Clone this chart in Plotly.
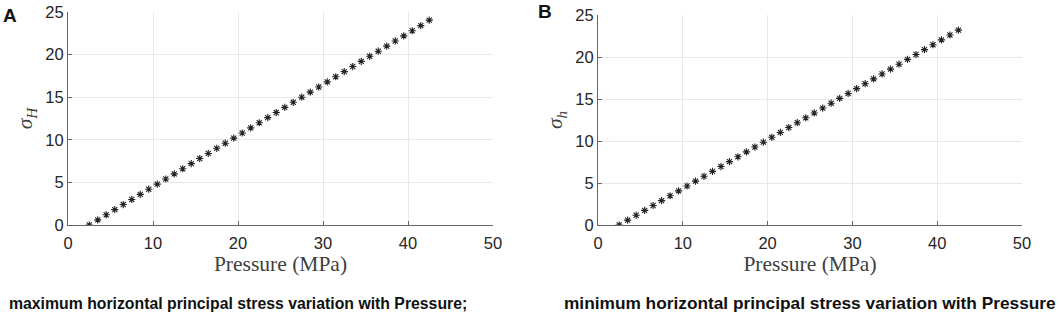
import plotly.graph_objects as go

pressure = [2.5, 3.5, 4.5, 5.5, 6.5, 7.5, 8.5, 9.5, 10.5, 11.5, 12.5, 13.5, 14.5, 15.5,
            16.5, 17.5, 18.5, 19.5, 20.5, 21.5, 22.5, 23.5, 24.5, 25.5, 26.5, 27.5, 28.5,
            29.5, 30.5, 31.5, 32.5, 33.5, 34.5, 35.5, 36.5, 37.5, 38.5, 39.5, 40.5, 41.5, 42.5]
sigma_H = [0.0, 0.6, 1.2, 1.8, 2.4, 3.0, 3.6, 4.2, 4.8, 5.4, 6.0, 6.6, 7.2, 7.8,
           8.4, 9.0, 9.6, 10.2, 10.8, 11.4, 12.0, 12.6, 13.2, 13.8, 14.4, 15.0, 15.6,
           16.2, 16.8, 17.4, 18.0, 18.6, 19.2, 19.8, 20.4, 21.0, 21.6, 22.2, 22.8, 23.4, 24.05]
sigma_h = [0.0, 0.58, 1.16, 1.74, 2.32, 2.9, 3.48, 4.06, 4.64, 5.22, 5.8, 6.38, 6.96, 7.54,
           8.12, 8.7, 9.28, 9.86, 10.44, 11.02, 11.6, 12.18, 12.76, 13.34, 13.92, 14.5, 15.08,
           15.66, 16.24, 16.82, 17.4, 17.98, 18.56, 19.14, 19.72, 20.3, 20.88, 21.46, 22.04, 22.62, 23.2]
x_ticks = [0, 10, 20, 30, 40, 50]
y_ticks = [0, 5, 10, 15, 20, 25]
captions = ["maximum horizontal principal stress variation with Pressure;",
            "minimum horizontal principal stress variation with Pressure"]
panel_labels = ["A", "B"]

W, H = 1059, 312
fig = go.Figure()

marker = dict(symbol="asterisk-open", size=6, color="#222222",
              line=dict(color="#222222", width=1.1))
fig.add_trace(go.Scatter(x=pressure, y=sigma_H, mode="markers", marker=marker,
                         xaxis="x", yaxis="y", showlegend=False))
fig.add_trace(go.Scatter(x=pressure, y=sigma_h, mode="markers", marker=marker,
                         xaxis="x2", yaxis="y2", showlegend=False))

tick_font = dict(family="Liberation Sans, Arial, sans-serif", size=16.5, color="#262626")
title_font = dict(family="Liberation Serif, DejaVu Serif, serif", size=21.5, color="#404040")

def xax(domain, anchor):
    return dict(domain=domain, anchor=anchor, range=[0, 50], tickvals=x_ticks,
                showgrid=True, gridcolor="#e8e8e8", gridwidth=1, zeroline=False,
                showline=True, linecolor="#666666", linewidth=1,
                ticks="inside", ticklen=4, tickcolor="#666666",
                tickfont=tick_font, mirror=False, ticklabelstandoff=3,
                title=dict(text="Pressure (MPa)", font=title_font, standoff=2))

def yax(domain, anchor, title):
    return dict(domain=domain, anchor=anchor, range=[0, 25], tickvals=y_ticks,
                showgrid=True, gridcolor="#e8e8e8", gridwidth=1, zeroline=False,
                showline=True, linecolor="#666666", linewidth=1,
                ticks="inside", ticklen=4, tickcolor="#666666",
                tickfont=tick_font,
                title=dict(text=title, font=title_font, standoff=6))

fig.update_layout(
    width=W, height=H,
    margin=dict(l=0, r=0, t=0, b=0, autoexpand=False),
    paper_bgcolor="white", plot_bgcolor="white",
    xaxis=xax([68 / W, 493 / W], "y"),
    yaxis=yax([1 - 225 / H, 1 - 12 / H], "x", "<i>σ<sub>H</sub></i>"),
    xaxis2=xax([598 / W, 1022 / W], "y2"),
    yaxis2=yax([1 - 225 / H, 1 - 15 / H], "x2", "<i>σ<sub>h</sub></i>"),
)

for txt, xc, fs in zip(captions, [238, 810], [15.8, 17.3]):
    fig.add_annotation(text="<b>%s</b>" % txt, x=xc / W, y=1 - 303 / H, xref="paper", yref="paper",
                       showarrow=False, xanchor="center", yanchor="middle",
                       font=dict(family="Liberation Sans, Arial, sans-serif", size=fs, color="#111111"))

for txt, xc, yc in zip(panel_labels, [10, 545], [15, 12]):
    fig.add_annotation(text="<b>%s</b>" % txt, x=xc / W, y=1 - yc / H, xref="paper", yref="paper",
                       showarrow=False, xanchor="center", yanchor="middle",
                       font=dict(family="Liberation Sans, Arial, sans-serif", size=19, color="#111111"))

fig.write_html("out.html", config={"displayModeBar": False},
               post_script="document.body.style.margin='0';")
